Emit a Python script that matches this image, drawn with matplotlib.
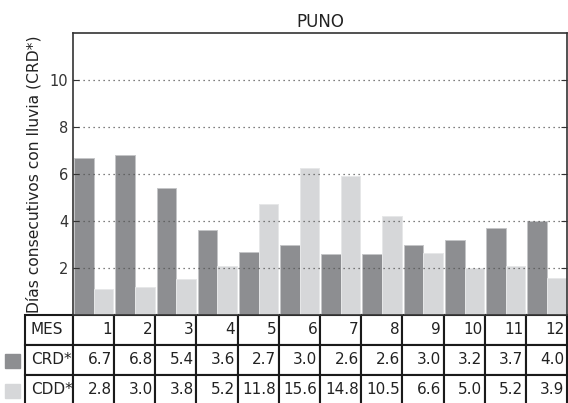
import numpy as np
import matplotlib.pyplot as plt
from matplotlib.patches import Rectangle

plt.rcParams["font.family"] = ["DejaVu Sans"]

meses = ["1", "2", "3", "4", "5", "6", "7", "8", "9", "10", "11", "12"]
crd = [6.7, 6.8, 5.4, 3.6, 2.7, 3.0, 2.6, 2.6, 3.0, 3.2, 3.7, 4.0]
cdd = [2.8, 3.0, 3.8, 5.2, 11.8, 15.6, 14.8, 10.5, 6.6, 5.0, 5.2, 3.9]
cdd_escala = 2.5  # CDD se dibuja reducido

c_crd = "#8d8e91"
c_cdd = "#d6d7d9"

fig = plt.figure(figsize=(5.68, 4.03), dpi=100)
ax = fig.add_axes([0.1285, 0.2184, 0.8698, 0.6996])

x = np.arange(len(meses))
w = 0.48
ax.bar(x, crd, w, align="edge", color=c_crd, edgecolor="#c4c5c7", linewidth=0.7)
ax.bar(x + w, np.array(cdd) / cdd_escala, 0.47, align="edge",
       color=c_cdd, edgecolor="#e6e7e8", linewidth=0.7)

ax.set_xlim(-0.03, 11.97)
ax.set_ylim(0, 12)
ax.set_xticks([])
ax.set_yticks([2, 4, 6, 8, 10])
ax.tick_params(axis="y", direction="in", length=4, labelsize=10.5, right=True, colors="#333333")
ax.yaxis.grid(True, linestyle=(0, (1, 3)), color="#555555", linewidth=0.9)
for s in ax.spines.values():
    s.set_color("#333333")
    s.set_linewidth(1.2)
ax.set_title("PUNO", fontsize=12, color="#222222", pad=4)
ax.set_ylabel("Días consecutivos con lluvia (CRD*)", fontsize=11.2, color="#222222", labelpad=6)

cell_text = [["MES"] + meses,
             ["CRD*"] + [f"{v:.1f}" for v in crd],
             ["CDD*"] + [f"{v:.1f}" for v in cdd]]
th = 90 / 282
tbl = ax.table(cellText=cell_text, cellLoc="right",
               bbox=[-48 / 494, -th, 1 + 48 / 494, th],
               colWidths=[48] + [494 / 12] * 12)
tbl.auto_set_font_size(False)
tbl.set_fontsize(11)
for (r, c), cell in tbl.get_celld().items():
    cell.set_linewidth(1.5)
    cell.set_edgecolor("#1a1a1a")
    cell.get_text().set_color("#222222")
    if c == 0:
        cell.get_text().set_horizontalalignment("left")
        cell.PAD = 0.12
    else:
        cell.PAD = 0.06

# cuadros de color de la leyenda
for fila, col in [(1, c_crd), (2, c_cdd)]:
    yb = -th + (2 - fila) * th / 3
    ax.add_patch(Rectangle((-69 / 494 * 12, yb * 12 + 0.3), 15 / 494 * 12, 0.6,
                           color=col, clip_on=False, transform=ax.transData))

fig.savefig("out.png", dpi=100)
